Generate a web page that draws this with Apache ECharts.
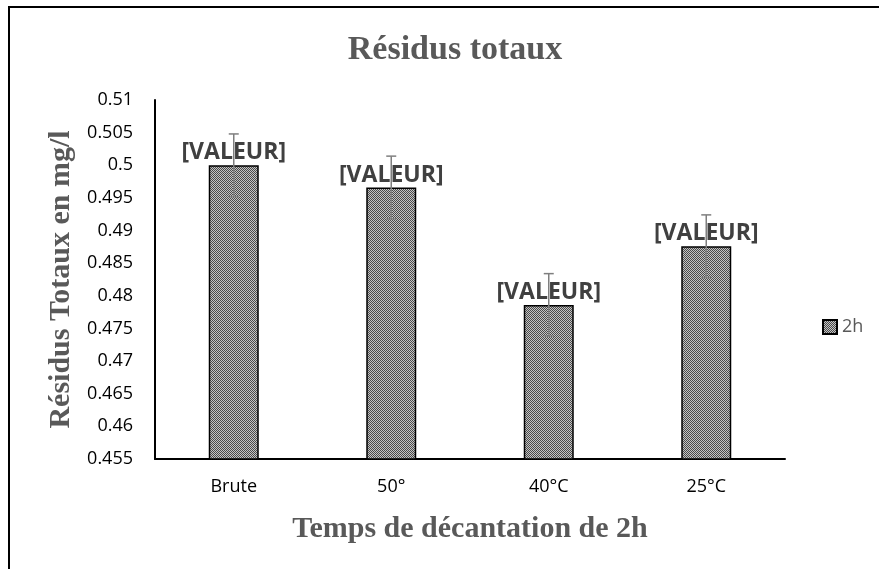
<!DOCTYPE html>
<html><head><meta charset="utf-8">
<script src="https://cdn.jsdelivr.net/npm/echarts@6/dist/echarts.min.js"></script>
<style>html,body{margin:0;padding:0;background:#fff}#c{width:879px;height:569px}</style>
</head><body><div id="c"></div>
<script>
const categories = ['Brute', '50°', '40°C', '25°C'];
const values = [0.5, 0.4966, 0.4786, 0.4876];
const errors = [0.0048, 0.0048, 0.0048, 0.0048];
const seriesName = '2h';
const yMin = 0.455, yMax = 0.51, yStep = 0.005;

// checkered pattern fill
const pc = document.createElement('canvas');
pc.width = 2; pc.height = 2;
const px = pc.getContext('2d');
px.fillStyle = '#c4c4c4'; px.fillRect(0,0,2,2);
px.fillStyle = '#4a4a4a'; px.fillRect(0,0,1,1); px.fillRect(1,1,1,1);
const pattern = {image: pc, repeat: 'repeat'};

const chart = echarts.init(document.getElementById('c'));
chart.setOption({
  animation: false,
  backgroundColor: '#fff',
  title: {
    text: 'Résidus totaux', left: 450, top: 28, textAlign: 'center',
    textStyle: {fontFamily: 'Liberation Serif', fontWeight: 'bold', fontSize: 34, color: '#595959'}
  },
  graphic: [
    {type: 'polyline', shape: {points: [[9, 569], [9, 7], [879, 7]]}, style: {stroke: '#000', lineWidth: 2, fill: null}}
  ],
  legend: {
    data: [{name: seriesName, icon: 'rect'}], left: 817, top: 313, itemWidth: 14, itemHeight: 14, itemGap: 4,
    textStyle: {fontFamily: 'Open Sans', fontSize: 18, color: '#595959'}
  },
  grid: {left: 155, top: 100, right: 94, bottom: 110},
  xAxis: {
    type: 'category', data: categories,
    axisLine: {lineStyle: {color: '#000', width: 2}},
    axisTick: {show: false},
    axisLabel: {fontFamily: 'Open Sans', fontSize: 18, color: '#000', margin: 19},
    name: 'Temps de décantation de 2h', nameLocation: 'middle', nameGap: 55,
    nameTextStyle: {fontFamily: 'Liberation Serif', fontWeight: 'bold', fontSize: 30, color: '#595959'}
  },
  yAxis: {
    type: 'value', min: yMin, max: yMax, interval: yStep,
    axisLine: {show: true, lineStyle: {color: '#000', width: 2}},
    axisTick: {show: false},
    splitLine: {show: false},
    axisLabel: {fontFamily: 'Open Sans', fontSize: 18, color: '#000', margin: 22,
      formatter: v => String(parseFloat(v.toFixed(3)))},
    name: 'Résidus Totaux en mg/l', nameLocation: 'middle', nameGap: 78,
    nameTextStyle: {fontFamily: 'Liberation Serif', fontWeight: 'bold', fontSize: 30, color: '#595959'}
  },
  series: [
    {
      name: seriesName, type: 'bar', data: values, barWidth: 50,
      itemStyle: {color: pattern, borderColor: '#000', borderWidth: 1.5},
      label: {show: true, position: 'top', distance: 1, formatter: '[VALEUR]',
        fontFamily: 'Open Sans', fontWeight: 'bold', fontSize: 23, color: '#404040'}
    },
    {
      type: 'custom', name: 'err', silent: true, z: 5,
      data: values.map((v, i) => [i, v - errors[i], v + errors[i]]),
      renderItem: function (params, api) {
        const lo = api.coord([api.value(0), api.value(1)]);
        const hi = api.coord([api.value(0), api.value(2)]);
        const w = 5;
        const st = {stroke: '#7f7f7f', lineWidth: 1.5};
        return {type: 'group', children: [
          {type: 'line', shape: {x1: hi[0], y1: hi[1], x2: lo[0], y2: lo[1]}, style: st},
          {type: 'line', shape: {x1: hi[0]-w, y1: hi[1], x2: hi[0]+w, y2: hi[1]}, style: st},
          {type: 'line', shape: {x1: lo[0]-w, y1: lo[1], x2: lo[0]+w, y2: lo[1]}, style: st}
        ]};
      }
    }
  ]
});
</script></body></html>
